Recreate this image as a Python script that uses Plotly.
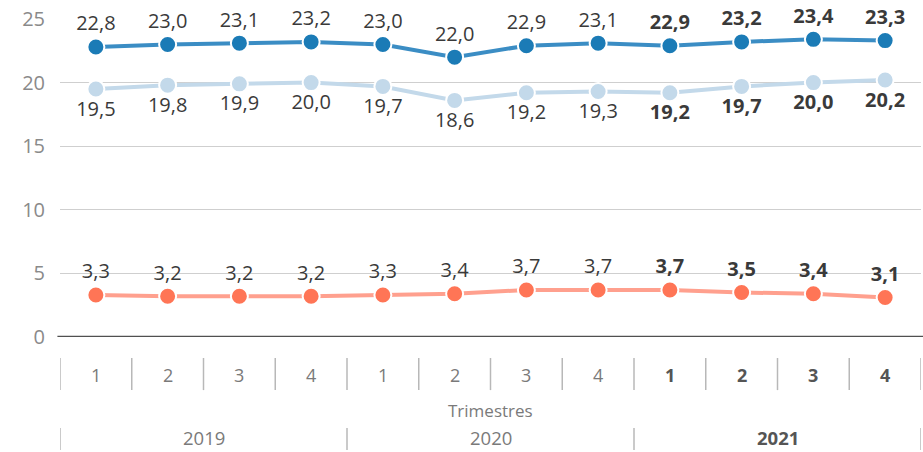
import plotly.graph_objects as go

# Quarterly series, 2019 Q1 - 2021 Q4
quarters = ["1", "2", "3", "4", "1", "2", "3", "4", "1", "2", "3", "4"]
years = ["2019", "2020", "2021"]
series_top = [22.8, 23.0, 23.1, 23.2, 23.0, 22.0, 22.9, 23.1, 22.9, 23.2, 23.4, 23.3]
series_mid = [19.5, 19.8, 19.9, 20.0, 19.7, 18.6, 19.2, 19.3, 19.2, 19.7, 20.0, 20.2]
series_low = [3.3, 3.2, 3.2, 3.2, 3.3, 3.4, 3.7, 3.7, 3.7, 3.5, 3.4, 3.1]
y_ticks = [0, 5, 10, 15, 20, 25]

FONT = "Open Sans"
n = len(quarters)
xs = list(range(n))
latest_start = 8  # first quarter of the most recent year (highlighted in bold)


def fmt(v, i):
    s = f"{v:.1f}".replace(".", ",")
    return f"<b>{s}</b>" if i >= latest_start else s


def add_series(values, line_color, marker_color, text_pos):
    fig.add_trace(go.Scatter(
        x=xs, y=values, mode="lines+markers+text",
        line=dict(color=line_color, width=4),
        marker=dict(size=17, color=marker_color, line=dict(color="white", width=2)),
        text=[fmt(v, i) for i, v in enumerate(values)],
        textposition=text_pos,
        textfont=dict(family=FONT, size=20, color="#3a3a3a"),
        cliponaxis=False, hoverinfo="skip", showlegend=False,
    ))


fig = go.Figure()
add_series(series_mid, "#c3d9ea", "#c3d9ea", "bottom center")
add_series(series_top, "#3b8dc4", "#1b7bb6", "top center")
add_series(series_low, "#ffa08e", "#ff7556", "top center")

# Zero baseline
fig.add_shape(type="line", xref="paper", yref="y", x0=-0.003, x1=1.003, y0=0, y1=0,
              line=dict(color="#505050", width=2.5), layer="above")

shapes = []
annotations = []
sep_color = "#b8b8b8"
# Quarter separators and labels
for i in range(n + 1):
    shapes.append(dict(type="line", xref="x", yref="paper", x0=i - 0.5, x1=i - 0.5,
                       y0=-0.066, y1=-0.167, line=dict(color=sep_color, width=1.5)))
for i, q in enumerate(quarters):
    bold = i >= latest_start
    annotations.append(dict(
        x=i, y=-0.119, xref="x", yref="paper", showarrow=False, yanchor="middle",
        text=f"<b>{q}</b>" if bold else q,
        font=dict(family=FONT, size=18, color="#555" if bold else "#7a7a7a")))

annotations.append(dict(x=(n - 1) / 2, y=-0.230, xref="x", yref="paper", showarrow=False,
                        yanchor="middle", text="Trimestres",
                        font=dict(family=FONT, size=17, color="#7a7a7a")))

# Year separators and labels
per_year = n // len(years)
for k in range(len(years) + 1):
    xb = k * per_year - 0.5
    shapes.append(dict(type="line", xref="x", yref="paper", x0=xb, x1=xb,
                       y0=-0.286, y1=-0.355, line=dict(color=sep_color, width=1.5)))
for k, yr in enumerate(years):
    bold = k == len(years) - 1
    annotations.append(dict(
        x=k * per_year + (per_year - 1) / 2, y=-0.316, xref="x", yref="paper",
        showarrow=False, yanchor="middle",
        text=f"<b>{yr}</b>" if bold else yr,
        font=dict(family=FONT, size=18.5, color="#555" if bold else "#7a7a7a")))

fig.update_layout(
    width=923, height=452,
    margin=dict(l=60, r=2, t=19, b=115),
    paper_bgcolor="white", plot_bgcolor="white",
    shapes=list(fig.layout.shapes) + shapes,
    annotations=annotations,
    xaxis=dict(range=[-0.5, n - 0.5], showticklabels=False, showgrid=False,
               zeroline=False, showline=False, fixedrange=True),
    yaxis=dict(range=[0, 25], tickvals=y_ticks, showgrid=True, gridcolor="#cfcfcf",
               gridwidth=1, zeroline=False, showline=False,
               tickfont=dict(family=FONT, size=20, color="#8a8a8a"),
               ticklabelstandoff=14, fixedrange=True),
)

fig.write_html("out.html")
